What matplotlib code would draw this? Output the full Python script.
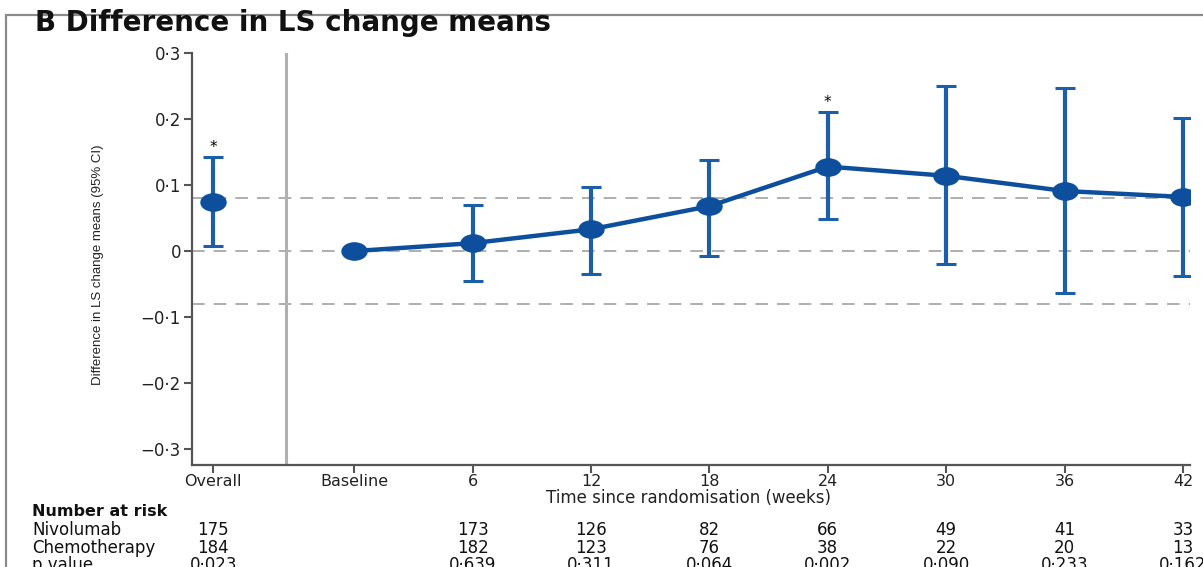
import numpy as np
import matplotlib.pyplot as plt
from matplotlib.path import Path
from matplotlib.transforms import Affine2D, blended_transform_factory
from matplotlib.patches import Rectangle

plt.rcParams['font.family'] = ['DejaVu Sans']

# --- data ---
tick_labels = ["Overall", "Baseline", "6", "12", "18", "24", "30", "36", "42"]
weeks = [0, 6, 12, 18, 24, 30, 36, 42]
diff = [0.0, 0.012, 0.033, 0.068, 0.128, 0.114, 0.091, 0.082]
ci_low = [0.0, -0.045, -0.035, -0.008, 0.048, -0.019, -0.064, -0.037]
ci_high = [0.0, 0.070, 0.097, 0.138, 0.210, 0.250, 0.247, 0.202]
overall_diff = 0.075
overall_low = 0.008
overall_high = 0.142
star_weeks = [24]
mid_line = 0.08  # minimal important difference band

nivo_risk = ["175", "", "173", "126", "82", "66", "49", "41", "33"]
chemo_risk = ["184", "", "182", "123", "76", "38", "22", "20", "13"]
p_values = ["0·023", "", "0·639", "0·311", "0·064", "0·002", "0·090", "0·233", "0·162"]

yticks = [0.3, 0.2, 0.1, 0, -0.1, -0.2, -0.3]
ytick_labels = ["0·3", "0·2", "0·1", "0", "−0·1", "−0·2", "−0·3"]

blue = "#0d4f9c"
blue_bar = "#1d5ea8"
grey = "#a8a8a8"

# positions: baseline at 0, one unit per 6 weeks, overall set apart on the left
x_overall = -1.19
x_sep = -0.58
xs = [w / 6 for w in weeks]
tick_pos = [x_overall] + xs

ellipse = Path.unit_circle().transformed(Affine2D().scale(1.45, 1.0))

fig = plt.figure(figsize=(12.03, 5.67), dpi=100)
ax = fig.add_axes([192 / 1203, 1 - 465 / 567, 998 / 1203, 412 / 567])
ax.set_xlim(-1.37, 7.06)
ax.set_ylim(-0.324, 0.3)

# reference lines
for yv in [mid_line, 0, -mid_line]:
    ax.axhline(yv, color=grey, lw=1.3, dashes=(7, 5), zorder=1)
ax.axvline(x_sep, color="#b0b0b0", lw=2.2, zorder=1)

# overall estimate
ax.errorbar([x_overall], [overall_diff],
            yerr=[[overall_diff - overall_low], [overall_high - overall_diff]],
            fmt="none", ecolor=blue_bar, elinewidth=3, capsize=7, capthick=2.2, zorder=2)
ax.plot([x_overall], [overall_diff], marker=ellipse, ms=18, color=blue, ls="none", zorder=3)
ax.text(x_overall, overall_high + 0.004, "*", ha="center", va="bottom", fontsize=11)

# over time
d = np.array(diff)
lo = np.array(ci_low)
hi = np.array(ci_high)
has_ci = hi > lo
ax.errorbar(np.array(xs)[has_ci], d[has_ci], yerr=[d[has_ci] - lo[has_ci], hi[has_ci] - d[has_ci]],
            fmt="none", ecolor=blue_bar, elinewidth=3, capsize=7, capthick=2.2, zorder=2)
ax.plot(xs, diff, color=blue, lw=3.2, marker=ellipse, ms=18, zorder=3)
for w in star_weeks:
    i = weeks.index(w)
    ax.text(xs[i], ci_high[i] + 0.004, "*", ha="center", va="bottom", fontsize=11)

# axes styling
for s in ["top", "right"]:
    ax.spines[s].set_visible(False)
for s in ["left", "bottom"]:
    ax.spines[s].set_color("#555555")
    ax.spines[s].set_linewidth(1.6)
ax.set_yticks(yticks)
ax.set_yticklabels(ytick_labels)
ax.set_xticks(tick_pos)
ax.set_xticklabels(tick_labels)
ax.tick_params(axis="both", colors="#555555", length=6, width=1.5, labelsize=12,
               labelcolor="#222222", pad=2)
ax.tick_params(axis="x", pad=0.5, labelsize=11.5)

fig.text(688 / 1203, 1 - 498 / 567, "Time since randomisation (weeks)", ha="center", va="center",
         fontsize=12, color="#222222")
fig.text(98 / 1203, 1 - 265 / 567, "Difference in LS change means (95% CI)", rotation=90,
         ha="center", va="center", fontsize=9.5, color="#222222",
         family=["Liberation Sans Narrow", "Liberation Sans", "DejaVu Sans"])

# title and frame
fig.text(35 / 1203, 1 - 23 / 567, "B Difference in LS change means", ha="left", va="center",
         fontsize=20, fontweight="bold", color="#111111")
fig.patches.append(Rectangle((6 / 1203, -0.1), 1.2, 1 - 15 / 567 + 0.1, transform=fig.transFigure,
                             fill=False, ec="#8a8a8a", lw=1.6))

# number at risk table
tr = blended_transform_factory(ax.transData, fig.transFigure)
fig.text(32 / 1203, 1 - 511 / 567, "Number at risk", ha="left", va="center", fontsize=11.5,
         fontweight="bold", color="#111111")
rows = [("Nivolumab", nivo_risk, 530), ("Chemotherapy", chemo_risk, 548), ("p value", p_values, 565)]
for name, vals, ypx in rows:
    yf = 1 - ypx / 567
    fig.text(32 / 1203, yf, name, ha="left", va="center", fontsize=12, color="#111111")
    for xp, v in zip(tick_pos, vals):
        ax.text(xp, yf, v, transform=tr, ha="center", va="center", fontsize=12,
                color="#111111", clip_on=False)

fig.savefig("out.png", dpi=100, facecolor="white")
